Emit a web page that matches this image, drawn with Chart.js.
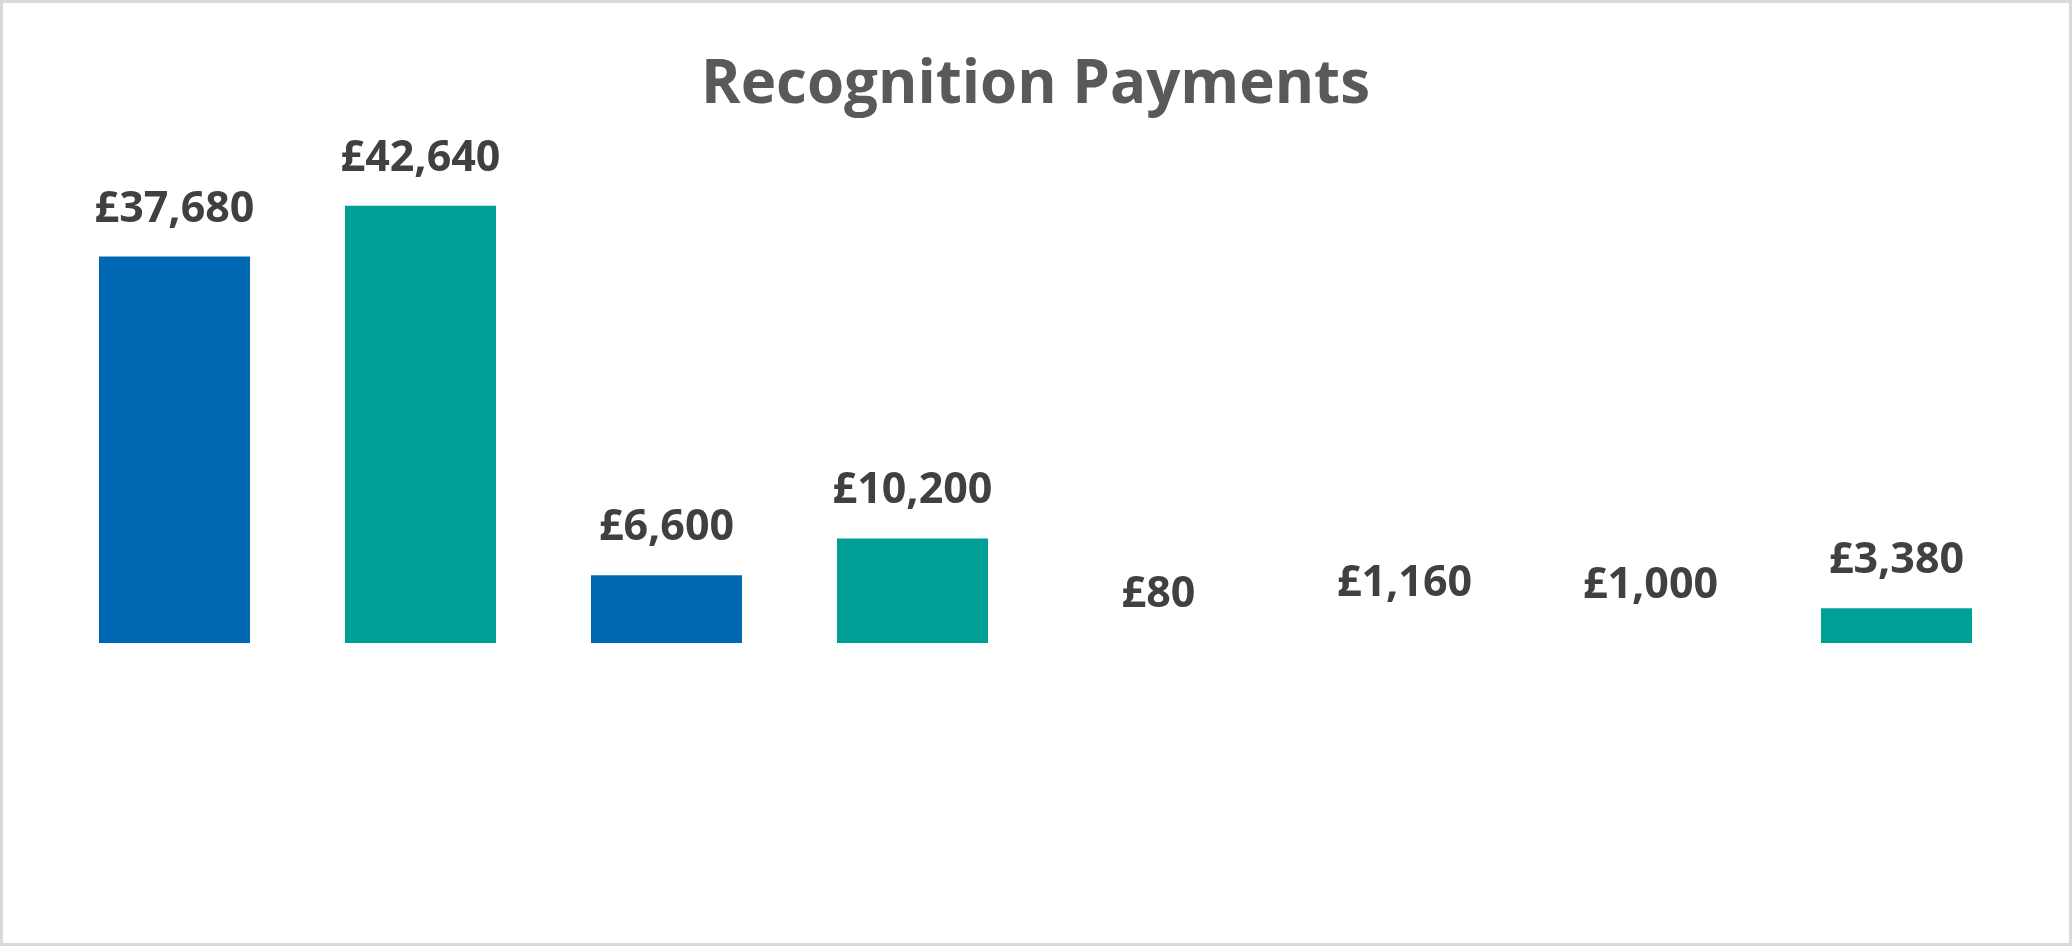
<!DOCTYPE html>
<html>
<head>
<meta charset="utf-8">
<script src="https://cdn.jsdelivr.net/npm/chart.js@4"></script>
<style>
  html, body { margin: 0; padding: 0; background: #ffffff; }
  #wrap { position: absolute; left: 0; top: 0; width: 2072px; height: 946px; box-sizing: border-box; border: 3px solid #d9d9d9; background: #ffffff; }
  #c { display: block; }
</style>
</head>
<body>
<div id="wrap"><canvas id="c" width="2066" height="940"></canvas></div>
<script>
// ---- data ----
const categories = ['Group 1', 'Group 2', 'Group 3', 'Group 4', 'Group 5', 'Group 6', 'Group 7', 'Group 8'];
const payments = [37680, 42640, 6600, 10200, 80, 1160, 1000, 3380];
const titleText = 'Recognition Payments';
const currencySymbol = '£';

// ---- styles ----
const BLUE = '#0068B2';
const TEAL = '#00A096';
const NONE = 'rgba(0,0,0,0)';
const barColors = [BLUE, TEAL, BLUE, TEAL, NONE, NONE, NONE, TEAL];

const valueLabels = {
  id: 'valueLabels',
  afterDatasetsDraw(chart) {
    const ctx = chart.ctx;
    const meta = chart.getDatasetMeta(0);
    ctx.save();
    ctx.font = 'bold 43px "Open Sans"';
    ctx.fillStyle = '#404040';
    ctx.textAlign = 'center';
    ctx.textBaseline = 'alphabetic';
    meta.data.forEach((el, i) => {
      const v = chart.data.datasets[0].data[i];
      ctx.fillText(currencySymbol + v.toLocaleString('en-GB'), el.x, el.y - 35);
    });
    ctx.restore();
  }
};

new Chart(document.getElementById('c'), {
  type: 'bar',
  data: {
    labels: categories,
    datasets: [{
      data: payments,
      backgroundColor: barColors,
      borderWidth: 0,
      categoryPercentage: 1.0,
      barPercentage: 0.614
    }]
  },
  options: {
    responsive: false,
    animation: false,
    devicePixelRatio: 1,
    layout: { padding: { left: 48.5, right: 49.5, top: 0, bottom: 300 } },
    plugins: {
      legend: { display: false },
      tooltip: { enabled: false },
      title: {
        display: true,
        text: titleText,
        color: '#595959',
        font: { family: '"Open Sans"', size: 60, weight: 'bold', lineHeight: 1.2 },
        padding: { top: 47, bottom: 8.2 }
      }
    },
    scales: {
      x: { display: false },
      y: { display: false, min: 0, max: 50000 }
    }
  },
  plugins: [valueLabels]
});
</script>
</body>
</html>
